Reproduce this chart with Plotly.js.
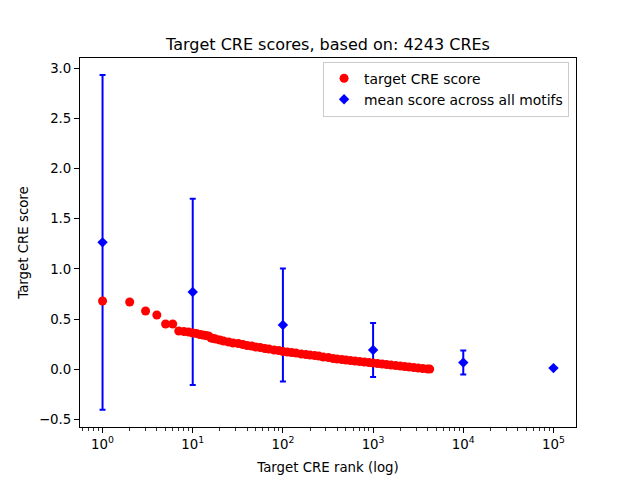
<!DOCTYPE html>
<html>
<head>
<meta charset="utf-8">
<script src="https://cdn.plot.ly/plotly-3.0.1.min.js"></script>
<style>html,body{margin:0;padding:0;background:#fff;}#chart{width:640px;height:480px;}</style>
</head>
<body>
<div id="chart"></div>
<script>
// Target CRE score per rank
const creRanks = [1,2,3,4,5,6,7,8,9,10,11,12,13,14,15,16,17,18,20,22,25,28,32,36,40,45,50,56,63,70,80,90,100,112,125,140,160,180,200,225,250,280,320,360,400,450,500,560,630,710,800,900,1000,1120,1260,1410,1580,1780,2000,2240,2510,2820,3160,3550,3980,4243];
const creScores = [0.68,0.67,0.58,0.54,0.45,0.45,0.38,0.375,0.37,0.36,0.355,0.345,0.34,0.335,0.33,0.31,0.305,0.30,0.29,0.28,0.27,0.26,0.255,0.245,0.235,0.23,0.22,0.215,0.205,0.20,0.19,0.185,0.175,0.17,0.165,0.16,0.15,0.145,0.14,0.135,0.13,0.12,0.115,0.105,0.10,0.095,0.09,0.085,0.08,0.075,0.07,0.065,0.06,0.055,0.05,0.045,0.04,0.035,0.03,0.025,0.02,0.015,0.01,0.006,0.002,0.0];

// Mean score across all motifs with error bars
const meanRanks = [1,10,100,1000,10000,100000];
const meanScores = [1.265,0.77,0.44,0.19,0.065,0.01];
const meanErrors = [1.67,0.93,0.565,0.27,0.12,0.0];

const xTickVals = [1,10,100,1000,10000,100000];
const xTickText = ['10<sup>0</sup>','10<sup>1</sup>','10<sup>2</sup>','10<sup>3</sup>','10<sup>4</sup>','10<sup>5</sup>'];

const minorVals = [];
for (let e = -1; e <= 5; e++) {
  for (let d = 2; d <= 9; d++) minorVals.push(d * Math.pow(10, e));
}

const font = {family: 'DejaVu Sans, sans-serif', size: 13.33, color: '#000'};

const traces = [
  {
    x: meanRanks, y: meanScores, type: 'scatter', mode: 'markers',
    name: 'mean score across all motifs', legendrank: 2,
    marker: {symbol: 'diamond', size: 8, color: '#0000ff'},
    error_y: {type: 'data', array: meanErrors, visible: true, color: '#0000ff', thickness: 2, width: 3}
  },
  {
    x: creRanks, y: creScores, type: 'scatter', mode: 'markers',
    name: 'target CRE score', legendrank: 1,
    marker: {symbol: 'circle', size: 9, color: '#ff0000'}
  }
];

const layout = {
  width: 640, height: 480,
  margin: {l: 80, r: 64, t: 58, b: 53},
  paper_bgcolor: '#fff', plot_bgcolor: '#fff',
  font: font,
  showlegend: true,
  title: {text: 'Target CRE scores, based on: 4243 CREs', font: {family: font.family, size: 16, color: '#000'},
          x: 0.5, xref: 'paper', y: 1 - 44/480, yref: 'container', yanchor: 'middle'},
  xaxis: {
    type: 'log', range: [-0.25, 5.25],
    tickmode: 'array', tickvals: xTickVals, ticktext: xTickText,
    ticks: 'outside', ticklen: 5, tickwidth: 1, tickcolor: '#000',
    minor: {tickmode: 'array', tickvals: minorVals, ticks: 'outside', ticklen: 3, tickwidth: 0.8, tickcolor: '#000'},
    showline: true, linecolor: '#000', linewidth: 1, mirror: true,
    showgrid: false, zeroline: false,
    tickfont: font,
    title: {text: 'Target CRE rank (log)', font: font, standoff: 11}
  },
  yaxis: {
    range: [-0.578, 3.105], dtick: 0.5, tick0: 0, tickformat: '.1f',
    ticks: 'outside', ticklen: 5, tickwidth: 1, tickcolor: '#000',
    showline: true, linecolor: '#000', linewidth: 1, mirror: true,
    showgrid: false, zeroline: false,
    tickfont: font,
    title: {text: 'Target CRE score', font: font, standoff: 7}
  },
  legend: {
    x: 0.986, y: 0.99, xanchor: 'right', yanchor: 'top',
    bgcolor: 'rgba(255,255,255,0.8)', bordercolor: '#cccccc', borderwidth: 1,
    font: {family: font.family, size: 13.9, color: '#000'}, tracegroupgap: 0, itemwidth: 30
  }
};

Plotly.newPlot('chart', traces, layout, {displayModeBar: false, staticPlot: true});
</script>
</body>
</html>
